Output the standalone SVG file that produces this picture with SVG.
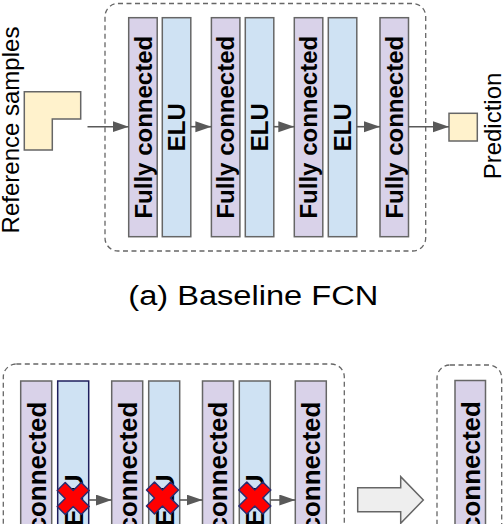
<svg xmlns="http://www.w3.org/2000/svg" width="504" height="524" viewBox="0 0 504 524">
<defs>
<style>
.fc{fill:#d9d2e9;stroke:#666;stroke-width:1.5}
.elu{fill:#cfe2f3;stroke:#666;stroke-width:1.5}
.io{fill:#fff2cc;stroke:#666;stroke-width:1.5}
.box{fill:none;stroke:#666;stroke-width:1.3;stroke-dasharray:5 3.5}
.lbl{font-family:"Liberation Sans",Arial,sans-serif;font-weight:bold;font-size:24px;fill:#000;text-anchor:middle}
.lbl2{font-family:"Liberation Sans",Arial,sans-serif;font-weight:bold;font-size:26px;fill:#000;text-anchor:middle}
.txt{font-family:"Liberation Sans",Arial,sans-serif;font-size:24px;fill:#000;text-anchor:middle}
.cap{font-family:"Liberation Sans",Arial,sans-serif;font-size:27px;fill:#000;text-anchor:middle}
.arr{stroke:#595959;stroke-width:1.6;fill:none;marker-end:url(#ah)}
.xm{fill:#ff0000;stroke:#2b2b6e;stroke-width:1.5;stroke-linejoin:round}
</style>
<marker id="ah" markerUnits="userSpaceOnUse" markerWidth="17" markerHeight="12" refX="16" refY="5.5" orient="auto">
<path d="M0,0 L16,5.5 L0,11 z" fill="#595959"/>
</marker>
<path id="xshape" d="M-16,-8 L-8,-16 L0,-8 L8,-16 L16,-8 L8,0 L16,8 L8,16 L0,8 L-8,16 L-16,8 L-8,0 z"/>
</defs>

<!-- (a) Baseline FCN -->
<g id="boxA"><rect class="box" x="105" y="3.5" width="320.7" height="247.5" rx="13"/></g>
<g id="refSamples">
<path class="io" d="M24.3,91.7 H80.7 V119 H52.3 V150 H24.3 z"/>
<text class="txt" transform="translate(18.5,130) rotate(-90)">Reference samples</text>
</g>
<g id="fc1"><rect class="fc" x="128.7" y="17.7" width="28.5" height="219"/><text class="lbl" transform="translate(151.6,127.2) rotate(-90)">Fully connected</text></g>
<g id="elu1"><rect class="elu" x="162.3" y="17.7" width="28.5" height="219"/><text class="lbl" transform="translate(185.2,127.2) rotate(-90)">ELU</text></g>
<g id="fc2"><rect class="fc" x="211.4" y="17.7" width="28.5" height="219"/><text class="lbl" transform="translate(234.3,127.2) rotate(-90)">Fully connected</text></g>
<g id="elu2"><rect class="elu" x="245.3" y="17.7" width="28.5" height="219"/><text class="lbl" transform="translate(268.2,127.2) rotate(-90)">ELU</text></g>
<g id="fc3"><rect class="fc" x="294.3" y="17.7" width="28.5" height="219"/><text class="lbl" transform="translate(317.2,127.2) rotate(-90)">Fully connected</text></g>
<g id="elu3"><rect class="elu" x="328.3" y="17.7" width="28.5" height="219"/><text class="lbl" transform="translate(351.2,127.2) rotate(-90)">ELU</text></g>
<g id="fc4"><rect class="fc" x="380" y="17.7" width="28.5" height="219"/><text class="lbl" transform="translate(402.9,127.2) rotate(-90)">Fully connected</text></g>
<g id="prediction">
<rect class="io" x="449" y="113.3" width="28.3" height="27.7"/>
<text class="txt" transform="translate(500.5,126) rotate(-90)">Prediction</text>
</g>
<g id="captionA"><text class="cap" x="253.3" y="305" textLength="250" lengthAdjust="spacingAndGlyphs">(a) Baseline FCN</text></g>

<!-- lower part -->
<g id="boxB"><rect class="box" x="3.3" y="364" width="341" height="400" rx="13"/></g>
<g id="bfc1"><rect class="fc" x="20.7" y="381" width="31" height="240"/><text class="lbl2" transform="translate(45.5,500.5) rotate(-90)">Fully connected</text></g>
<g id="belu1"><rect class="elu" style="stroke:#1f1f5e" x="57.7" y="381" width="31" height="240"/><text class="lbl2" transform="translate(82.5,500.5) rotate(-90)">ELU</text></g>
<g id="bfc2"><rect class="fc" x="111.7" y="381" width="31" height="240"/><text class="lbl2" transform="translate(136.5,500.5) rotate(-90)">Fully connected</text></g>
<g id="belu2"><rect class="elu" x="148.7" y="381" width="31" height="240"/><text class="lbl2" transform="translate(173.5,500.5) rotate(-90)">ELU</text></g>
<g id="bfc3"><rect class="fc" x="202.5" y="381" width="31" height="240"/><text class="lbl2" transform="translate(227.3,500.5) rotate(-90)">Fully connected</text></g>
<g id="belu3"><rect class="elu" x="239.3" y="381" width="31" height="240"/><text class="lbl2" transform="translate(264.1,500.5) rotate(-90)">ELU</text></g>
<g id="bfc4"><rect class="fc" x="295.3" y="381" width="31" height="240"/><text class="lbl2" transform="translate(320.1,500.5) rotate(-90)">Fully connected</text></g>
<g id="crosses">
<use href="#xshape" class="xm" x="73.2" y="498.5"/>
<use href="#xshape" class="xm" x="162.5" y="498"/>
<use href="#xshape" class="xm" x="254.8" y="498"/>
</g>
<g id="bigArrow"><path d="M357.7,487.7 H400.7 V476.7 L423.3,500 L400.7,523.3 V511.7 H357.7 z" fill="#eeeeee" stroke="#666" stroke-width="1.5"/></g>
<g id="boxC"><rect class="box" x="437" y="365" width="64.7" height="400" rx="13"/></g>
<g id="cfc1"><rect class="fc" x="455" y="380.5" width="30.5" height="240"/><text class="lbl2" transform="translate(479.5,500) rotate(-90)">Fully connected</text></g>

<g id="connectors">
<line class="arr" x1="87.5" y1="126.7" x2="128.7" y2="126.7"/>
<line class="arr" x1="190.8" y1="126.7" x2="211.4" y2="126.7"/>
<line class="arr" x1="273.8" y1="126.7" x2="294.3" y2="126.7"/>
<line class="arr" x1="356.8" y1="126.7" x2="380" y2="126.7"/>
<line class="arr" x1="408.5" y1="126.7" x2="449" y2="126.7"/>
<line class="arr" x1="88.7" y1="500" x2="111.7" y2="500"/>
<line class="arr" x1="179.7" y1="500" x2="202.5" y2="500"/>
<line class="arr" x1="270.3" y1="500" x2="295.3" y2="500"/>
</g>
</svg>
